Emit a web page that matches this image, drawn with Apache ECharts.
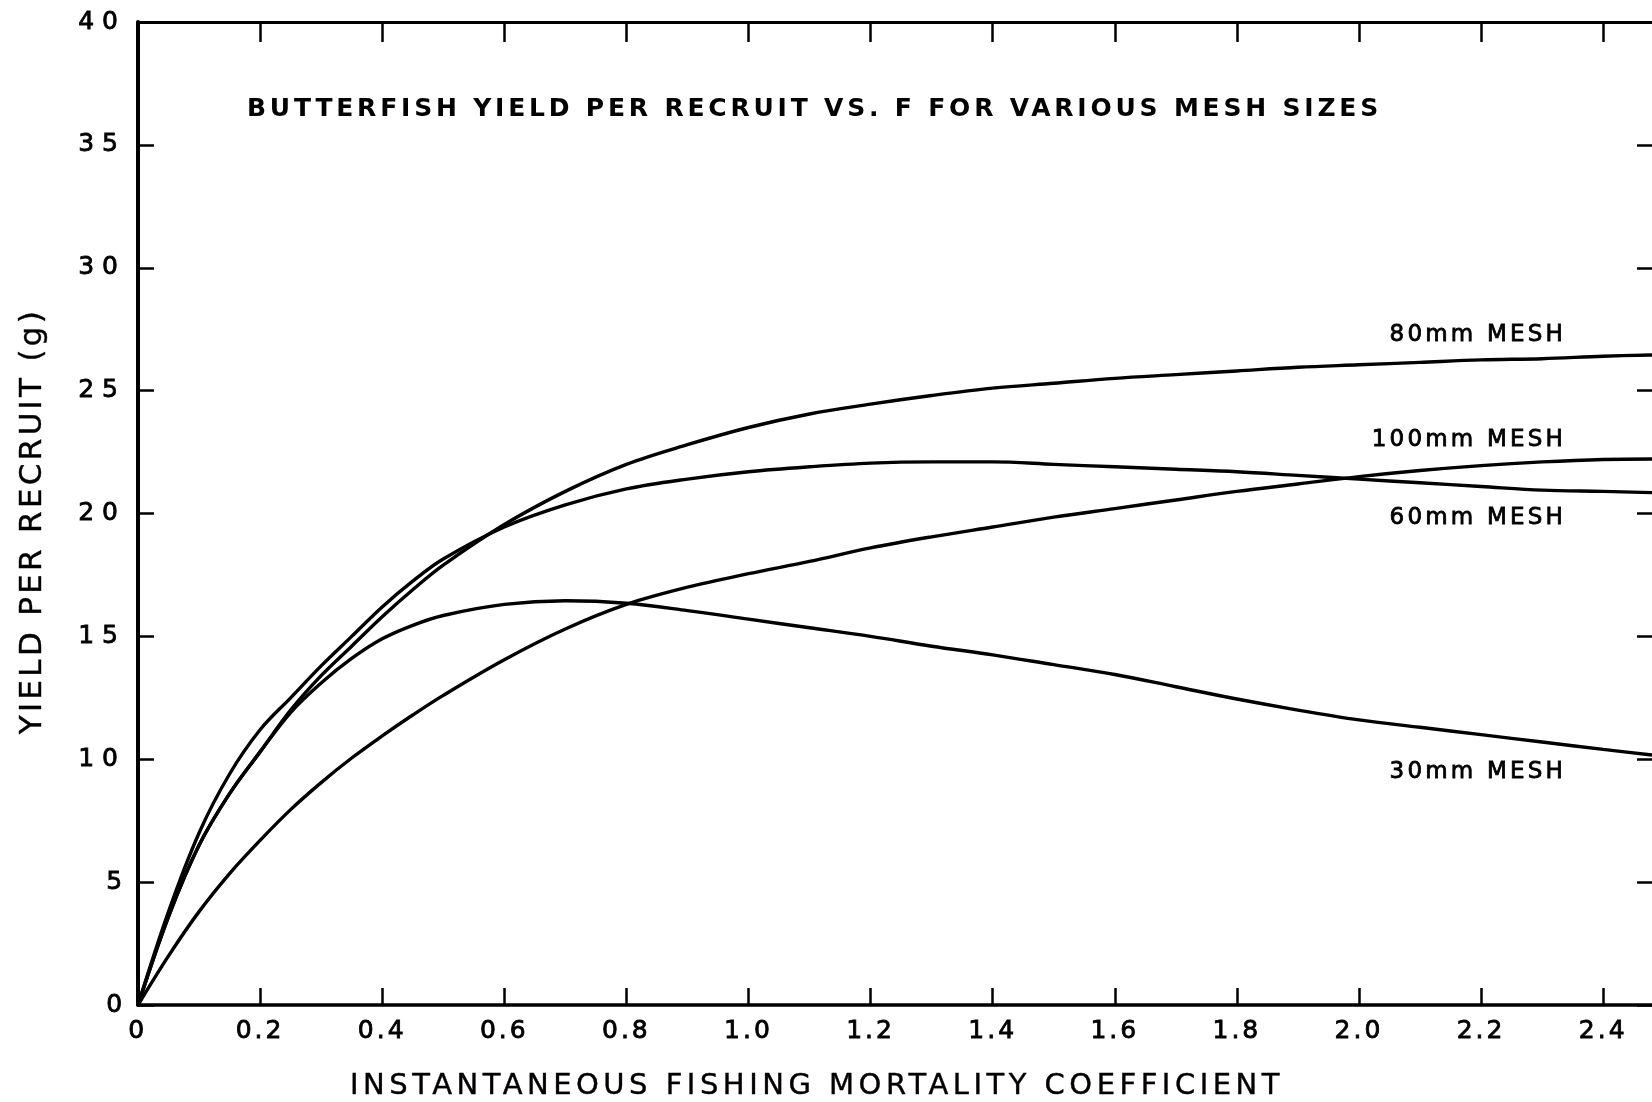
<!DOCTYPE html>
<html>
<head>
<meta charset="utf-8">
<script src="https://cdn.jsdelivr.net/npm/echarts@6/dist/echarts.min.js"></script>
<style>
  html, body { margin: 0; padding: 0; background: #ffffff; }
  #chart { width: 1652px; height: 1102px; }
</style>
</head>
<body>
<div id="chart"></div>
<script>
// ---------------- data ----------------
const fValues = [0, 0.05, 0.1, 0.15, 0.2, 0.25, 0.3, 0.35, 0.4, 0.45, 0.5, 0.6, 0.7, 0.8, 0.9, 1.0,
                 1.1, 1.2, 1.3, 1.4, 1.5, 1.6, 1.7, 1.8, 1.9, 2.0, 2.1, 2.2, 2.3, 2.4, 2.48];
const mesh30  = [0, 3.6, 6.5, 8.6, 10.3, 11.9, 13.1, 14.1, 14.9, 15.45, 15.85, 16.3, 16.45, 16.35, 16.05, 15.7,
                 15.35, 15.0, 14.6, 14.25, 13.85, 13.45, 12.95, 12.45, 12.0, 11.6, 11.3, 11.0, 10.7, 10.4, 10.17];
const mesh60  = [0, 3.8, 7.0, 9.4, 11.2, 12.5, 13.8, 15.0, 16.2, 17.25, 18.15, 19.45, 20.35, 21.0, 21.4, 21.7,
                 21.9, 22.05, 22.1, 22.1, 22.0, 21.9, 21.8, 21.7, 21.55, 21.4, 21.25, 21.1, 20.95, 20.9, 20.85];
const mesh80  = [0, 3.6, 6.5, 8.6, 10.3, 12.0, 13.4, 14.6, 15.8, 16.9, 17.9, 19.55, 20.9, 22.0, 22.8, 23.5,
                 24.05, 24.45, 24.8, 25.1, 25.3, 25.5, 25.65, 25.8, 25.95, 26.05, 26.15, 26.25, 26.3, 26.4, 26.45];
const mesh100 = [0, 2.0, 3.8, 5.35, 6.7, 7.95, 9.05, 10.05, 10.95, 11.8, 12.6, 14.05, 15.3, 16.3, 17.0, 17.55,
                 18.05, 18.6, 19.05, 19.45, 19.85, 20.2, 20.55, 20.9, 21.2, 21.5, 21.75, 21.95, 22.1, 22.2, 22.22];

const xTicks = [0, 0.2, 0.4, 0.6, 0.8, 1.0, 1.2, 1.4, 1.6, 1.8, 2.0, 2.2, 2.4];
const xTickLabels = ['0', '0.2', '0.4', '0.6', '0.8', '1.0', '1.2', '1.4', '1.6', '1.8', '2.0', '2.2', '2.4'];
const yTicks = [0, 5, 10, 15, 20, 25, 30, 35, 40];
const yTickLabels = ['0', '5', '10', '15', '20', '25', '30', '35', '40'];

const titleText = 'BUTTERFISH YIELD PER RECRUIT VS. F FOR VARIOUS MESH SIZES';
const xAxisTitle = 'INSTANTANEOUS FISHING MORTALITY COEFFICIENT';
const yAxisTitle = 'YIELD PER RECRUIT (g)';
const seriesNames = ['30mm MESH', '60mm MESH', '80mm MESH', '100mm MESH'];

// ---------------- letter spacing for the hand lettering ----------------
const LETTER_SPACING = new Map();
function spaced(text, px) { LETTER_SPACING.set(text, px); return text; }
(function () {
  const proto = CanvasRenderingContext2D.prototype;
  if (!('letterSpacing' in proto)) return;
  ['fillText', 'strokeText'].forEach(function (fn) {
    const orig = proto[fn];
    proto[fn] = function (text, x, y, maxWidth) {
      const s = LETTER_SPACING.get(String(text));
      if (s) {
        const prev = this.letterSpacing;
        this.letterSpacing = s + 'px';
        const r = maxWidth === undefined ? orig.call(this, text, x, y) : orig.call(this, text, x, y, maxWidth);
        this.letterSpacing = prev;
        return r;
      }
      return maxWidth === undefined ? orig.call(this, text, x, y) : orig.call(this, text, x, y, maxWidth);
    };
  });
})();

spaced(titleText, 3.8);
spaced(xAxisTitle, 4.5);
spaced(yAxisTitle, 3.3);
seriesNames.forEach(n => spaced(n, 3.2));
xTickLabels.forEach(t => { if (t.length > 1) spaced(t, 3); });
yTickLabels.forEach(t => { if (t.length > 1) spaced(t, 8); });

// ---------------- chart ----------------
const FONT = '"DejaVu Sans", "Liberation Sans", sans-serif';
const chart = echarts.init(document.getElementById('chart'), null, { renderer: 'canvas' });

function pairs(ys) { return fValues.map((x, i) => [x, ys[i]]); }
function lineSeries(name, ys) {
  return {
    name: name, type: 'line', data: pairs(ys), smooth: 0.35,
    showSymbol: false, symbol: 'none', silent: true, animation: false,
    lineStyle: { color: '#000', width: 3.4 }
  };
}
function xLabel(v) {
  for (let i = 0; i < xTicks.length; i++) if (Math.abs(xTicks[i] - v) < 1e-6) return xTickLabels[i];
  return '';
}
function yLabel(v) {
  const i = yTicks.indexOf(v);
  return i >= 0 ? yTickLabels[i] : '';
}
const tickLabelStyle = {
  color: '#000', fontFamily: FONT, fontSize: 25,
  textBorderColor: '#000', textBorderWidth: 0.8
};

function textEl(text, x, y, opts) {
  return Object.assign({
    type: 'text', x: x, y: y, silent: true,
    style: Object.assign({
      text: text, fill: '#000', fontFamily: FONT, fontSize: 25,
      align: 'left', verticalAlign: 'middle'
    }, opts.style || {})
  }, opts.el || {});
}

const option = {
  backgroundColor: '#ffffff',
  animation: false,
  grid: { left: 138, right: 0, top: 22, bottom: 97, containLabel: false },
  xAxis: [
    {
      type: 'value', position: 'bottom', min: 0, max: 2.48, interval: 0.2,
      axisLine: { show: true, onZero: false, lineStyle: { color: '#000', width: 3.5 } },
      axisTick: { show: true, inside: true, length: 17, customValues: xTicks, lineStyle: { color: '#000', width: 2.5 } },
      axisLabel: Object.assign({ margin: 14, formatter: xLabel, customValues: xTicks }, tickLabelStyle),
      splitLine: { show: false }
    },
    {
      type: 'value', position: 'top', min: 0, max: 2.48, interval: 0.2,
      axisLine: { show: true, onZero: false, lineStyle: { color: '#000', width: 3 } },
      axisTick: { show: true, inside: true, length: 20, customValues: xTicks, lineStyle: { color: '#000', width: 2.5 } },
      axisLabel: { show: false },
      splitLine: { show: false }
    }
  ],
  yAxis: [
    {
      type: 'value', position: 'left', min: 0, max: 40, interval: 5,
      axisLine: { show: true, onZero: false, lineStyle: { color: '#000', width: 4 } },
      axisTick: { show: true, inside: true, length: 16, lineStyle: { color: '#000', width: 2.5 } },
      axisLabel: Object.assign({ margin: 12, formatter: yLabel }, tickLabelStyle),
      splitLine: { show: false }
    },
    {
      type: 'value', position: 'right', min: 0, max: 40, interval: 5,
      axisLine: { show: false, onZero: false },
      axisTick: { show: true, inside: true, length: 15, lineStyle: { color: '#000', width: 2.5 } },
      axisLabel: { show: false },
      splitLine: { show: false }
    }
  ],
  series: [
    lineSeries(seriesNames[0], mesh30),
    lineSeries(seriesNames[1], mesh60),
    lineSeries(seriesNames[2], mesh80),
    lineSeries(seriesNames[3], mesh100)
  ],
  graphic: [
    textEl(titleText, 247, 109, { style: { fontWeight: 'bold', fontSize: 25 } }),
    textEl(xAxisTitle, 817, 1086, { style: { fontSize: 29, align: 'center', stroke: '#000', lineWidth: 0.4 } }),
    textEl(yAxisTitle, 33, 521, { style: { fontSize: 31, align: 'center', stroke: '#000', lineWidth: 0.4 }, el: { rotation: Math.PI / 2 } }),
    textEl(seriesNames[2], 1566, 335, { style: { fontSize: 23, align: 'right', stroke: '#000', lineWidth: 0.8 } }),
    textEl(seriesNames[3], 1566, 440, { style: { fontSize: 23, align: 'right', stroke: '#000', lineWidth: 0.8 } }),
    textEl(seriesNames[1], 1566, 518, { style: { fontSize: 23, align: 'right', stroke: '#000', lineWidth: 0.8 } }),
    textEl(seriesNames[0], 1566, 772, { style: { fontSize: 23, align: 'right', stroke: '#000', lineWidth: 0.8 } })
  ]
};
chart.setOption(option);
</script>
</body>
</html>
